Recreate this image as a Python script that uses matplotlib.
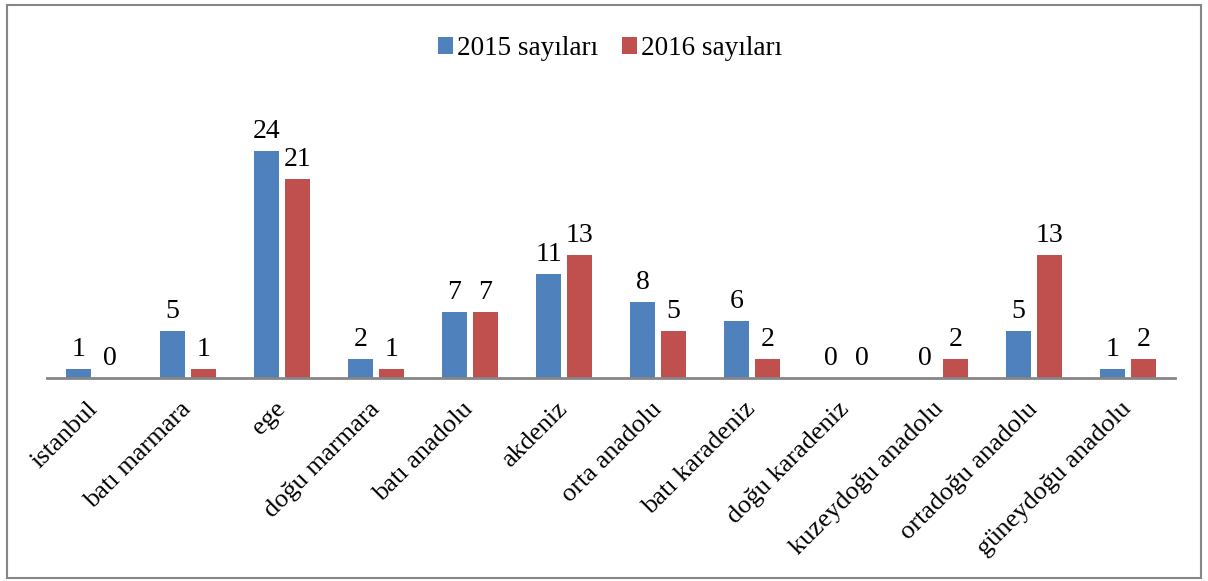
import numpy as np
from matplotlib import pyplot as plt
from matplotlib.patches import Rectangle

bolgeler = ['istanbul', 'batı marmara', 'ege', 'doğu marmara', 'batı anadolu',
            'akdeniz', 'orta anadolu', 'batı karadeniz', 'doğu karadeniz',
            'kuzeydoğu anadolu', 'ortadoğu anadolu', 'güneydoğu anadolu']
sayilar_2015 = [1, 5, 24, 2, 7, 11, 8, 6, 0, 0, 5, 1]
sayilar_2016 = [0, 1, 21, 1, 7, 13, 5, 2, 0, 2, 13, 2]

plt.rcParams['font.family'] = ['Liberation Serif', 'DejaVu Serif']

fig = plt.figure(figsize=(12.08, 5.81), dpi=100)
ax = fig.add_axes([0.0389, 0.3494, 0.9338, 0.47])

x = np.arange(len(bolgeler))
w = 0.266
b1 = ax.bar(x - w / 2 - 0.032, sayilar_2015, w, color='#4F81BD', label='2015 sayıları')
b2 = ax.bar(x + w / 2 + 0.032, sayilar_2016, w, color='#C0504D', label='2016 sayıları')

for barras in (b1, b2):
    for r in barras:
        ax.annotate(str(int(r.get_height())), (r.get_x() + r.get_width() / 2, r.get_height()),
                    xytext=(0, 5), textcoords='offset points', ha='center', va='bottom', fontsize=20)

ax.set_xlim(-0.5, len(bolgeler) - 0.5)
ax.set_ylim(0, 24 * 0.47 * 581 / 227)
ax.set_yticks([])
ax.set_xticks(x)
ax.set_xticklabels(bolgeler, rotation=45, ha='right', va='center', rotation_mode='anchor', fontsize=19)
ax.tick_params(axis='x', length=0, pad=20)
for s in ('top', 'right', 'left'):
    ax.spines[s].set_visible(False)
ax.spines['bottom'].set_color('#868686')
ax.spines['bottom'].set_linewidth(2)

fig.legend(loc='upper center', bbox_to_anchor=(0.505, 0.98), ncol=2, frameon=False,
           fontsize=19.5, handlelength=0.55, handleheight=0.55, handletextpad=0.15, columnspacing=0.9)

fig.patches.append(Rectangle((0.006, 0.005), 0.988, 0.987, transform=fig.transFigure,
                             fill=False, edgecolor='#868686', linewidth=1.5))

fig.savefig('out.png', dpi=100)
